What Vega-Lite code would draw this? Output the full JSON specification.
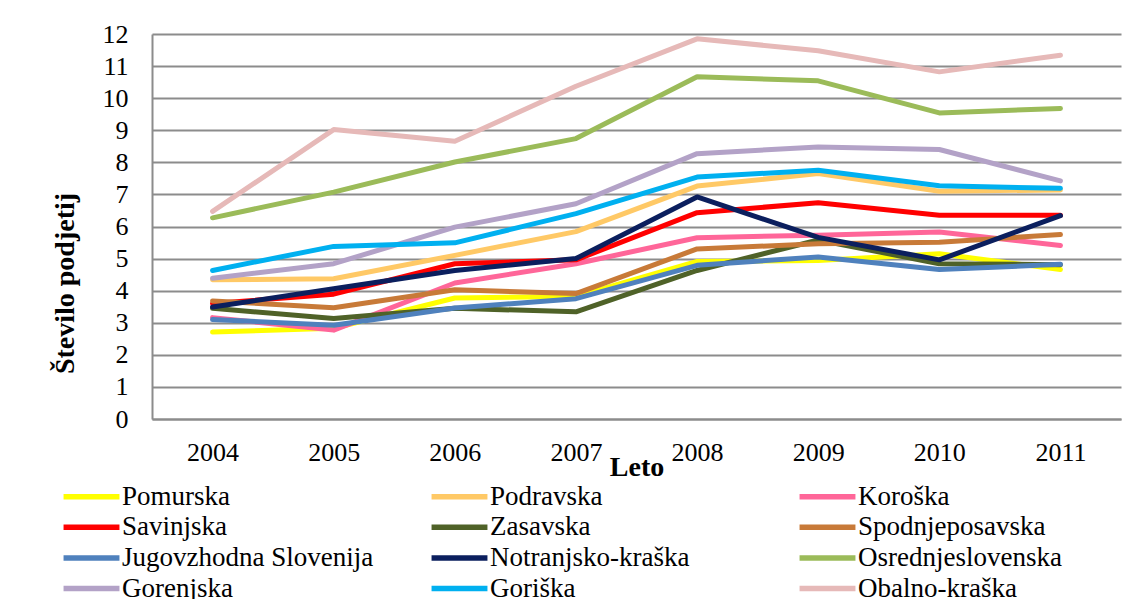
{
  "$schema": "https://vega.github.io/schema/vega-lite/v6.json",
  "width": 969,
  "height": 385,
  "autosize": {"type": "none"},
  "padding": {"left": 152, "top": 34, "right": 11, "bottom": 180},
  "background": "white",
  "config": {
    "view": {"stroke": null},
    "font": "Liberation Serif"
  },
  "data": {
    "values": [
      {"region": "Pomurska", "year": "2004", "value": 2.71},
      {"region": "Pomurska", "year": "2005", "value": 2.83},
      {"region": "Pomurska", "year": "2006", "value": 3.77},
      {"region": "Pomurska", "year": "2007", "value": 3.82},
      {"region": "Pomurska", "year": "2008", "value": 4.91},
      {"region": "Pomurska", "year": "2009", "value": 4.94},
      {"region": "Pomurska", "year": "2010", "value": 5.15},
      {"region": "Pomurska", "year": "2011", "value": 4.66},
      {"region": "Podravska", "year": "2004", "value": 4.34},
      {"region": "Podravska", "year": "2005", "value": 4.37},
      {"region": "Podravska", "year": "2006", "value": 5.1},
      {"region": "Podravska", "year": "2007", "value": 5.84},
      {"region": "Podravska", "year": "2008", "value": 7.26},
      {"region": "Podravska", "year": "2009", "value": 7.65},
      {"region": "Podravska", "year": "2010", "value": 7.1},
      {"region": "Podravska", "year": "2011", "value": 7.14},
      {"region": "Koroška", "year": "2004", "value": 3.16},
      {"region": "Koroška", "year": "2005", "value": 2.77},
      {"region": "Koroška", "year": "2006", "value": 4.24},
      {"region": "Koroška", "year": "2007", "value": 4.84},
      {"region": "Koroška", "year": "2008", "value": 5.65},
      {"region": "Koroška", "year": "2009", "value": 5.73},
      {"region": "Koroška", "year": "2010", "value": 5.83},
      {"region": "Koroška", "year": "2011", "value": 5.41},
      {"region": "Savinjska", "year": "2004", "value": 3.6},
      {"region": "Savinjska", "year": "2005", "value": 3.89},
      {"region": "Savinjska", "year": "2006", "value": 4.84},
      {"region": "Savinjska", "year": "2007", "value": 4.96},
      {"region": "Savinjska", "year": "2008", "value": 6.43},
      {"region": "Savinjska", "year": "2009", "value": 6.74},
      {"region": "Savinjska", "year": "2010", "value": 6.35},
      {"region": "Savinjska", "year": "2011", "value": 6.35},
      {"region": "Zasavska", "year": "2004", "value": 3.45},
      {"region": "Zasavska", "year": "2005", "value": 3.13},
      {"region": "Zasavska", "year": "2006", "value": 3.45},
      {"region": "Zasavska", "year": "2007", "value": 3.34},
      {"region": "Zasavska", "year": "2008", "value": 4.63},
      {"region": "Zasavska", "year": "2009", "value": 5.58},
      {"region": "Zasavska", "year": "2010", "value": 4.84},
      {"region": "Zasavska", "year": "2011", "value": 4.81},
      {"region": "Spodnjeposavska", "year": "2004", "value": 3.68},
      {"region": "Spodnjeposavska", "year": "2005", "value": 3.47},
      {"region": "Spodnjeposavska", "year": "2006", "value": 4.03},
      {"region": "Spodnjeposavska", "year": "2007", "value": 3.91},
      {"region": "Spodnjeposavska", "year": "2008", "value": 5.3},
      {"region": "Spodnjeposavska", "year": "2009", "value": 5.46},
      {"region": "Spodnjeposavska", "year": "2010", "value": 5.51},
      {"region": "Spodnjeposavska", "year": "2011", "value": 5.75},
      {"region": "Jugovzhodna Slovenija", "year": "2004", "value": 3.1},
      {"region": "Jugovzhodna Slovenija", "year": "2005", "value": 2.92},
      {"region": "Jugovzhodna Slovenija", "year": "2006", "value": 3.46},
      {"region": "Jugovzhodna Slovenija", "year": "2007", "value": 3.75},
      {"region": "Jugovzhodna Slovenija", "year": "2008", "value": 4.79},
      {"region": "Jugovzhodna Slovenija", "year": "2009", "value": 5.05},
      {"region": "Jugovzhodna Slovenija", "year": "2010", "value": 4.66},
      {"region": "Jugovzhodna Slovenija", "year": "2011", "value": 4.82},
      {"region": "Notranjsko-kraška", "year": "2004", "value": 3.49},
      {"region": "Notranjsko-kraška", "year": "2005", "value": 4.06},
      {"region": "Notranjsko-kraška", "year": "2006", "value": 4.63},
      {"region": "Notranjsko-kraška", "year": "2007", "value": 5.0},
      {"region": "Notranjsko-kraška", "year": "2008", "value": 6.92},
      {"region": "Notranjsko-kraška", "year": "2009", "value": 5.66},
      {"region": "Notranjsko-kraška", "year": "2010", "value": 4.96},
      {"region": "Notranjsko-kraška", "year": "2011", "value": 6.34},
      {"region": "Osrednjeslovenska", "year": "2004", "value": 6.27},
      {"region": "Osrednjeslovenska", "year": "2005", "value": 7.07},
      {"region": "Osrednjeslovenska", "year": "2006", "value": 8.01},
      {"region": "Osrednjeslovenska", "year": "2007", "value": 8.74},
      {"region": "Osrednjeslovenska", "year": "2008", "value": 10.67},
      {"region": "Osrednjeslovenska", "year": "2009", "value": 10.54},
      {"region": "Osrednjeslovenska", "year": "2010", "value": 9.54},
      {"region": "Osrednjeslovenska", "year": "2011", "value": 9.68},
      {"region": "Gorenjska", "year": "2004", "value": 4.39},
      {"region": "Gorenjska", "year": "2005", "value": 4.84},
      {"region": "Gorenjska", "year": "2006", "value": 5.98},
      {"region": "Gorenjska", "year": "2007", "value": 6.71},
      {"region": "Gorenjska", "year": "2008", "value": 8.27},
      {"region": "Gorenjska", "year": "2009", "value": 8.48},
      {"region": "Gorenjska", "year": "2010", "value": 8.4},
      {"region": "Gorenjska", "year": "2011", "value": 7.42},
      {"region": "Goriška", "year": "2004", "value": 4.63},
      {"region": "Goriška", "year": "2005", "value": 5.38},
      {"region": "Goriška", "year": "2006", "value": 5.49},
      {"region": "Goriška", "year": "2007", "value": 6.4},
      {"region": "Goriška", "year": "2008", "value": 7.54},
      {"region": "Goriška", "year": "2009", "value": 7.75},
      {"region": "Goriška", "year": "2010", "value": 7.27},
      {"region": "Goriška", "year": "2011", "value": 7.19},
      {"region": "Obalno-kraška", "year": "2004", "value": 6.47},
      {"region": "Obalno-kraška", "year": "2005", "value": 9.02},
      {"region": "Obalno-kraška", "year": "2006", "value": 8.66},
      {"region": "Obalno-kraška", "year": "2007", "value": 10.37},
      {"region": "Obalno-kraška", "year": "2008", "value": 11.85},
      {"region": "Obalno-kraška", "year": "2009", "value": 11.48},
      {"region": "Obalno-kraška", "year": "2010", "value": 10.82},
      {"region": "Obalno-kraška", "year": "2011", "value": 11.34}
    ]
  },
  "mark": {"type": "line", "strokeWidth": 5, "strokeCap": "round", "strokeJoin": "round"},
  "encoding": {
    "x": {
      "field": "year",
      "type": "ordinal",
      "scale": {"type": "point", "padding": 0.5},
      "axis": {
        "title": "Leto",
        "titleFont": "Liberation Serif",
        "titleFontSize": 28,
        "titleFontWeight": "bold",
        "titleColor": "black",
        "titleAnchor": "middle",
        "titleBaseline": "middle",
        "titleY": 48,
        "labelAngle": 0,
        "labelFont": "Liberation Serif",
        "labelFontSize": 26,
        "labelColor": "black",
        "labelPadding": 20,
        "labelBaseline": "top",
        "ticks": false,
        "tickSize": 0,
        "domainColor": "#8c8c8c",
        "domainWidth": 2,
        "grid": false
      }
    },
    "y": {
      "field": "value",
      "type": "quantitative",
      "scale": {"domain": [0, 12], "nice": false},
      "axis": {
        "title": "Število podjetij",
        "titleFont": "Liberation Serif",
        "titleFontSize": 28,
        "titleFontWeight": "bold",
        "titleColor": "black",
        "titleAngle": 270,
        "titleAlign": "center",
        "titleBaseline": "middle",
        "titleX": -87,
        "titleY": 249,
        "values": [0, 1, 2, 3, 4, 5, 6, 7, 8, 9, 10, 11, 12],
        "labelFont": "Liberation Serif",
        "labelFontSize": 26,
        "labelColor": "black",
        "labelPadding": 24,
        "ticks": false,
        "tickSize": 0,
        "domainColor": "#8c8c8c",
        "domainWidth": 2,
        "grid": true,
        "gridColor": "#8c8c8c",
        "gridWidth": 2
      }
    },
    "color": {
      "field": "region",
      "type": "nominal",
      "scale": {
        "domain": ["Pomurska", "Podravska", "Koroška", "Savinjska", "Zasavska", "Spodnjeposavska", "Jugovzhodna Slovenija", "Notranjsko-kraška", "Osrednjeslovenska", "Gorenjska", "Goriška", "Obalno-kraška"],
        "range": ["#FFFF00", "#FFC966", "#FF6699", "#FF0000", "#4F6228", "#C87A38", "#4F81BD", "#0B1F5E", "#9BBB59", "#B3A2C7", "#00B0F0", "#E6B9B8"]
      },
      "legend": {
        "title": null,
        "orient": "none",
        "legendX": -74,
        "legendY": 449,
        "direction": "horizontal",
        "columns": 3,
        "gridAlign": "all",
        "columnPadding": 46,
        "rowPadding": 2.7,
        "symbolType": "M-5,0H5",
        "symbolSize": 125,
        "symbolStrokeWidth": 5.5,
        "labelFont": "Liberation Serif",
        "labelFontSize": 27,
        "labelColor": "black",
        "labelOffset": 17,
        "labelLimit": 400,
        "padding": 0
      }
    }
  }
}
